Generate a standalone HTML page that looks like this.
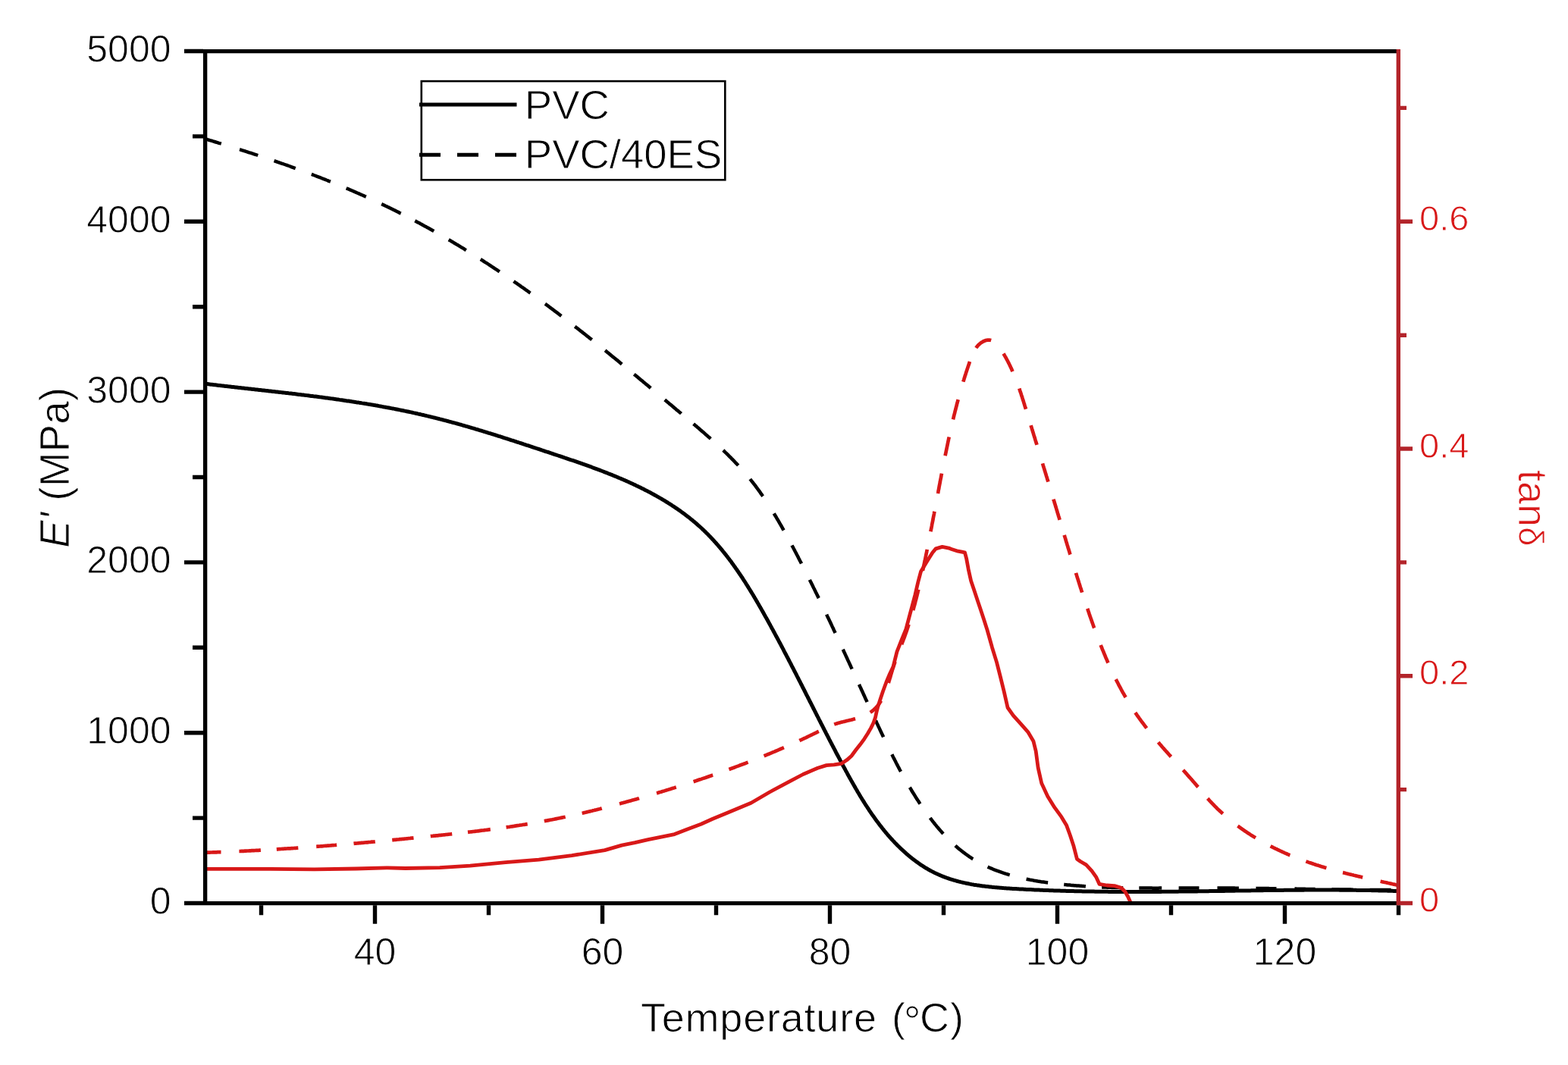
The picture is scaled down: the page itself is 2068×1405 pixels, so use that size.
<!DOCTYPE html><html><head><meta charset="utf-8"><title>DMA plot</title><style>html,body{margin:0;padding:0;background:#fff;overflow:hidden}svg{display:block}text{stroke:#fff;stroke-width:0.9px}</style></head><body><svg width="2068" height="1405" viewBox="0 0 2068 1405">
<rect width="2068" height="1405" fill="#fff"/>
<g fill="none" stroke-linejoin="round">
<path d="M270.7 506.3L272.1 506.5 273.6 506.6 275.1 506.8 276.6 507.0 278.0 507.2 279.5 507.3 281.0 507.5 282.5 507.7 284.0 507.8 285.4 508.0 286.9 508.2 288.4 508.4 289.9 508.5 291.4 508.7 292.8 508.9 294.3 509.0 295.8 509.2 297.3 509.4 298.8 509.5 300.3 509.7 301.7 509.9 303.2 510.0 304.7 510.2 306.2 510.4 307.7 510.5 309.2 510.7 310.7 510.9 312.1 511.0 313.6 511.2 315.1 511.4 316.6 511.5 318.1 511.7 319.6 511.9 321.1 512.0 322.5 512.2 324.0 512.4 325.5 512.5 327.0 512.7 328.5 512.9 330.0 513.0 331.5 513.2 333.0 513.4 334.5 513.5 335.9 513.7 337.4 513.9 338.9 514.0 340.4 514.2 341.9 514.4 343.4 514.5 344.9 514.7 346.4 514.9 347.9 515.0 349.4 515.2 350.8 515.4 352.3 515.5 353.8 515.7 355.3 515.9 356.8 516.0 358.3 516.2 359.8 516.4 361.3 516.5 362.8 516.7 364.3 516.9 365.8 517.0 367.2 517.2 368.7 517.4 370.2 517.6 371.7 517.7 373.2 517.9 374.7 518.1 376.2 518.2 377.7 518.4 379.2 518.6 380.7 518.8 382.2 518.9 383.7 519.1 385.2 519.3 386.6 519.5 388.1 519.6 389.6 519.8 391.1 520.0 392.6 520.2 394.1 520.4 395.6 520.5 397.1 520.7 398.6 520.9 400.1 521.1 401.6 521.3 403.1 521.4 404.5 521.6 406.0 521.8 407.5 522.0 409.0 522.2 410.5 522.4 412.0 522.6 413.5 522.8 415.0 522.9 416.5 523.1 418.0 523.3 419.5 523.5 421.0 523.7 422.4 523.9 423.9 524.1 425.4 524.3 426.9 524.5 428.4 524.7 429.9 524.9 431.4 525.1 432.9 525.3 434.4 525.5 435.9 525.7 437.3 525.9 438.8 526.1 440.3 526.3 441.8 526.5 443.3 526.7 444.8 526.9 446.3 527.1 447.8 527.4 449.2 527.6 450.7 527.8 452.2 528.0 453.7 528.2 455.2 528.4 456.7 528.7 458.2 528.9 459.7 529.1 461.1 529.3 462.6 529.5 464.1 529.8 465.6 530.0 467.1 530.2 468.6 530.4 470.0 530.7 471.5 530.9 473.0 531.1 474.5 531.4 476.0 531.6 477.5 531.9 478.9 532.1 480.4 532.3 481.9 532.6 483.4 532.8 484.9 533.1 486.3 533.3 487.8 533.6 489.3 533.8 490.8 534.1 492.3 534.3 493.7 534.6 495.2 534.8 496.7 535.1 498.2 535.3 499.6 535.6 501.1 535.9 502.6 536.1 504.1 536.4 505.5 536.7 507.0 536.9 508.5 537.2 510.0 537.5 511.4 537.7 512.9 538.0 514.4 538.3 515.9 538.6 517.3 538.9 518.8 539.1 520.3 539.4 521.7 539.7 523.2 540.0 524.7 540.3 526.2 540.6 527.6 540.9 529.1 541.2 530.6 541.5 532.0 541.8 533.5 542.1 534.9 542.4 536.4 542.7 537.9 543.0 539.3 543.3 540.8 543.6 542.3 543.9 543.7 544.2 545.2 544.6 546.7 544.9 548.1 545.2 549.6 545.5 551.0 545.9 552.5 546.2 553.9 546.5 555.4 546.9 556.9 547.2 558.3 547.5 559.8 547.9 561.2 548.2 562.7 548.6 564.1 548.9 565.6 549.3 567.0 549.6 568.5 550.0 569.9 550.3 571.4 550.7 572.8 551.0 574.3 551.4 575.7 551.8 577.2 552.1 578.6 552.5 580.1 552.9 581.5 553.2 583.0 553.6 584.4 554.0 585.9 554.4 587.3 554.7 588.8 555.1 590.2 555.5 591.6 555.9 593.1 556.3 594.5 556.7 596.0 557.1 597.4 557.5 598.8 557.8 600.3 558.2 601.7 558.6 603.2 559.0 604.6 559.4 606.0 559.8 607.5 560.2 608.9 560.7 610.4 561.1 611.8 561.5 613.2 561.9 614.7 562.3 616.1 562.7 617.5 563.1 619.0 563.5 620.4 564.0 621.8 564.4 623.3 564.8 624.7 565.2 626.1 565.6 627.6 566.1 629.0 566.5 630.4 566.9 631.9 567.4 633.3 567.8 634.7 568.2 636.2 568.7 637.6 569.1 639.0 569.5 640.5 570.0 641.9 570.4 643.3 570.8 644.7 571.3 646.2 571.7 647.6 572.2 649.0 572.6 650.5 573.0 651.9 573.5 653.3 573.9 654.7 574.4 656.2 574.8 657.6 575.3 659.0 575.7 660.5 576.2 661.9 576.6 663.3 577.1 664.7 577.6 666.2 578.0 667.6 578.5 669.0 578.9 670.4 579.4 671.9 579.8 673.3 580.3 674.7 580.8 676.2 581.2 677.6 581.7 679.0 582.1 680.4 582.6 681.9 583.1 683.3 583.5 684.7 584.0 686.1 584.5 687.6 584.9 689.0 585.4 690.4 585.9 691.8 586.3 693.3 586.8 694.7 587.3 696.1 587.7 697.5 588.2 699.0 588.7 700.4 589.1 701.8 589.6 703.2 590.1 704.7 590.6 706.1 591.0 707.5 591.5 708.9 592.0 710.4 592.4 711.8 592.9 713.2 593.4 714.7 593.9 716.1 594.3 717.5 594.8 718.9 595.3 720.4 595.8 721.8 596.2 723.2 596.7 724.6 597.2 726.1 597.7 727.5 598.1 728.9 598.6 730.3 599.1 731.8 599.6 733.2 600.0 734.6 600.5 736.1 601.0 737.5 601.5 738.9 601.9 740.3 602.4 741.8 602.9 743.2 603.4 744.6 603.9 746.1 604.3 747.5 604.8 748.9 605.3 750.3 605.8 751.8 606.3 753.2 606.8 754.6 607.2 756.0 607.7 757.5 608.2 758.9 608.7 760.3 609.2 761.7 609.7 763.1 610.2 764.6 610.7 766.0 611.2 767.4 611.7 768.8 612.2 770.2 612.7 771.7 613.2 773.1 613.7 774.5 614.2 775.9 614.7 777.3 615.2 778.7 615.7 780.2 616.2 781.6 616.8 783.0 617.3 784.4 617.8 785.8 618.3 787.2 618.8 788.6 619.4 790.0 619.9 791.4 620.4 792.8 621.0 794.2 621.5 795.6 622.0 797.0 622.6 798.4 623.1 799.8 623.7 801.2 624.2 802.6 624.8 804.0 625.3 805.4 625.9 806.8 626.4 808.2 627.0 809.6 627.6 811.0 628.1 812.4 628.7 813.8 629.3 815.1 629.9 816.5 630.5 817.9 631.0 819.3 631.6 820.7 632.2 822.0 632.8 823.4 633.4 824.8 634.0 826.2 634.6 827.5 635.2 828.9 635.8 830.3 636.5 831.6 637.1 833.0 637.7 834.3 638.3 835.7 639.0 837.1 639.6 838.4 640.2 839.8 640.9 841.1 641.5 842.5 642.2 843.8 642.8 845.2 643.5 846.5 644.2 847.8 644.8 849.2 645.5 850.5 646.2 851.9 646.9 853.2 647.6 854.5 648.2 855.8 648.9 857.2 649.6 858.5 650.3 859.8 651.1 861.1 651.8 862.4 652.5 863.7 653.2 865.0 653.9 866.3 654.7 867.6 655.4 868.9 656.1 870.2 656.9 871.5 657.6 872.8 658.4 874.1 659.2 875.4 659.9 876.7 660.7 877.9 661.5 879.2 662.3 880.5 663.0 881.7 663.8 883.0 664.6 884.2 665.4 885.5 666.2 886.7 667.1 888.0 667.9 889.2 668.7 890.5 669.5 891.7 670.4 892.9 671.2 894.2 672.0 895.4 672.9 896.6 673.7 897.8 674.6 899.0 675.5 900.2 676.3 901.4 677.2 902.6 678.1 903.8 679.0 905.0 679.9 906.1 680.8 907.3 681.7 908.5 682.6 909.7 683.5 910.8 684.5 912.0 685.4 913.1 686.3 914.3 687.3 915.4 688.2 916.5 689.2 917.7 690.1 918.8 691.1 919.9 692.1 921.0 693.1 922.1 694.0 923.2 695.0 924.3 696.0 925.4 697.0 926.5 698.1 927.6 699.1 928.6 700.1 929.7 701.1 930.8 702.2 931.8 703.2 932.9 704.3 933.9 705.3 935.0 706.4 936.0 707.4 937.0 708.5 938.0 709.6 939.1 710.7 940.1 711.8 941.1 712.9 942.1 714.0 943.1 715.1 944.1 716.2 945.1 717.3 946.0 718.4 947.0 719.5 948.0 720.7 949.0 721.8 949.9 722.9 950.9 724.1 951.8 725.2 952.8 726.4 953.7 727.6 954.7 728.7 955.6 729.9 956.6 731.1 957.5 732.2 958.4 733.4 959.3 734.6 960.2 735.8 961.2 737.0 962.1 738.2 963.0 739.4 963.9 740.6 964.8 741.8 965.6 743.0 966.5 744.2 967.4 745.5 968.3 746.7 969.2 747.9 970.0 749.2 970.9 750.4 971.8 751.6 972.6 752.9 973.5 754.1 974.3 755.4 975.2 756.6 976.0 757.9 976.9 759.1 977.7 760.4 978.6 761.6 979.4 762.9 980.2 764.2 981.0 765.5 981.9 766.7 982.7 768.0 983.5 769.3 984.3 770.6 985.1 771.8 985.9 773.1 986.7 774.4 987.5 775.7 988.3 777.0 989.1 778.3 989.9 779.6 990.7 780.9 991.5 782.2 992.3 783.5 993.1 784.8 993.9 786.1 994.6 787.4 995.4 788.7 996.2 790.0 996.9 791.3 997.7 792.6 998.5 793.9 999.2 795.2 1000.0 796.5 1000.8 797.9 1001.5 799.2 1002.3 800.5 1003.0 801.8 1003.8 803.1 1004.5 804.4 1005.3 805.8 1006.0 807.1 1006.8 808.4 1007.5 809.7 1008.2 811.0 1009.0 812.4 1009.7 813.7 1010.5 815.0 1011.2 816.3 1011.9 817.6 1012.7 819.0 1013.4 820.3 1014.1 821.6 1014.8 822.9 1015.6 824.2 1016.3 825.6 1017.0 826.9 1017.7 828.2 1018.4 829.5 1019.2 830.8 1019.9 832.2 1020.6 833.5 1021.3 834.8 1022.0 836.1 1022.7 837.4 1023.4 838.8 1024.1 840.1 1024.9 841.4 1025.6 842.7 1026.3 844.0 1027.0 845.4 1027.7 846.7 1028.4 848.0 1029.1 849.3 1029.8 850.6 1030.5 852.0 1031.2 853.3 1031.9 854.6 1032.6 855.9 1033.3 857.2 1033.9 858.6 1034.6 859.9 1035.3 861.2 1036.0 862.5 1036.7 863.8 1037.4 865.2 1038.1 866.5 1038.8 867.8 1039.5 869.1 1040.1 870.5 1040.8 871.8 1041.5 873.1 1042.2 874.4 1042.9 875.7 1043.6 877.1 1044.2 878.4 1044.9 879.7 1045.6 881.0 1046.3 882.3 1047.0 883.7 1047.6 885.0 1048.3 886.3 1049.0 887.6 1049.7 889.0 1050.4 890.3 1051.0 891.6 1051.7 892.9 1052.4 894.3 1053.1 895.6 1053.7 896.9 1054.4 898.2 1055.1 899.5 1055.8 900.9 1056.4 902.2 1057.1 903.5 1057.8 904.8 1058.4 906.2 1059.1 907.5 1059.8 908.8 1060.5 910.1 1061.1 911.5 1061.8 912.8 1062.5 914.1 1063.1 915.4 1063.8 916.8 1064.5 918.1 1065.2 919.4 1065.8 920.7 1066.5 922.0 1067.2 923.4 1067.8 924.7 1068.5 926.0 1069.2 927.3 1069.9 928.7 1070.5 930.0 1071.2 931.3 1071.9 932.6 1072.5 934.0 1073.2 935.3 1073.9 936.6 1074.6 938.0 1075.2 939.3 1075.9 940.6 1076.6 941.9 1077.2 943.3 1077.9 944.6 1078.6 945.9 1079.3 947.2 1079.9 948.6 1080.6 949.9 1081.3 951.2 1082.0 952.5 1082.6 953.9 1083.3 955.2 1084.0 956.5 1084.7 957.8 1085.4 959.2 1086.0 960.5 1086.7 961.8 1087.4 963.2 1088.1 964.5 1088.8 965.8 1089.4 967.1 1090.1 968.5 1090.8 969.8 1091.5 971.1 1092.2 972.5 1092.9 973.8 1093.5 975.1 1094.2 976.4 1094.9 977.8 1095.6 979.1 1096.3 980.4 1097.0 981.8 1097.7 983.1 1098.4 984.4 1099.1 985.8 1099.8 987.1 1100.5 988.4 1101.2 989.7 1101.9 991.1 1102.5 992.4 1103.2 993.7 1103.9 995.1 1104.7 996.4 1105.4 997.7 1106.1 999.1 1106.8 1000.4 1107.5 1001.7 1108.2 1003.1 1108.9 1004.4 1109.6 1005.7 1110.3 1007.1 1111.0 1008.4 1111.7 1009.7 1112.4 1011.0 1113.2 1012.4 1113.9 1013.7 1114.6 1015.0 1115.3 1016.4 1116.0 1017.7 1116.8 1019.0 1117.5 1020.4 1118.2 1021.7 1118.9 1023.0 1119.7 1024.4 1120.4 1025.7 1121.1 1027.0 1121.9 1028.3 1122.6 1029.7 1123.4 1031.0 1124.1 1032.3 1124.9 1033.6 1125.6 1035.0 1126.4 1036.3 1127.1 1037.6 1127.9 1038.9 1128.6 1040.2 1129.4 1041.5 1130.2 1042.8 1130.9 1044.2 1131.7 1045.5 1132.5 1046.8 1133.3 1048.1 1134.0 1049.4 1134.8 1050.7 1135.6 1052.0 1136.4 1053.3 1137.2 1054.6 1138.0 1055.8 1138.8 1057.1 1139.6 1058.4 1140.4 1059.7 1141.2 1061.0 1142.0 1062.3 1142.9 1063.5 1143.7 1064.8 1144.5 1066.1 1145.4 1067.3 1146.2 1068.6 1147.0 1069.8 1147.9 1071.1 1148.7 1072.3 1149.6 1073.6 1150.4 1074.8 1151.3 1076.1 1152.2 1077.3 1153.1 1078.5 1153.9 1079.8 1154.8 1081.0 1155.7 1082.2 1156.6 1083.4 1157.5 1084.6 1158.4 1085.8 1159.3 1087.0 1160.2 1088.2 1161.1 1089.4 1162.1 1090.6 1163.0 1091.8 1163.9 1093.0 1164.9 1094.2 1165.8 1095.3 1166.8 1096.5 1167.7 1097.6 1168.7 1098.8 1169.7 1100.0 1170.6 1101.1 1171.6 1102.2 1172.6 1103.4 1173.6 1104.5 1174.6 1105.6 1175.6 1106.7 1176.6 1107.8 1177.6 1108.9 1178.7 1110.0 1179.7 1111.1 1180.7 1112.2 1181.8 1113.3 1182.8 1114.4 1183.9 1115.4 1185.0 1116.5 1186.0 1117.5 1187.1 1118.6 1188.2 1119.6 1189.3 1120.7 1190.4 1121.7 1191.5 1122.7 1192.6 1123.7 1193.7 1124.7 1194.8 1125.7 1195.9 1126.7 1197.1 1127.6 1198.2 1128.6 1199.4 1129.6 1200.5 1130.5 1201.7 1131.4 1202.8 1132.4 1204.0 1133.3 1205.2 1134.2 1206.4 1135.1 1207.6 1136.0 1208.8 1136.9 1210.0 1137.7 1211.2 1138.6 1212.4 1139.4 1213.6 1140.3 1214.8 1141.1 1216.0 1141.9 1217.3 1142.7 1218.5 1143.5 1219.8 1144.3 1221.0 1145.0 1222.3 1145.8 1223.6 1146.5 1224.8 1147.3 1226.1 1148.0 1227.4 1148.7 1228.7 1149.4 1230.0 1150.1 1231.3 1150.7 1232.6 1151.4 1233.9 1152.0 1235.2 1152.6 1236.6 1153.2 1237.9 1153.8 1239.2 1154.4 1240.6 1155.0 1241.9 1155.6 1243.3 1156.1 1244.6 1156.6 1246.0 1157.2 1247.3 1157.7 1248.7 1158.2 1250.1 1158.6 1251.5 1159.1 1252.9 1159.6 1254.3 1160.0 1255.7 1160.5 1257.1 1160.9 1258.5 1161.3 1259.9 1161.7 1261.3 1162.1 1262.7 1162.5 1264.1 1162.9 1265.6 1163.2 1267.0 1163.6 1268.4 1163.9 1269.9 1164.3 1271.3 1164.6 1272.7 1164.9 1274.2 1165.2 1275.6 1165.5 1277.1 1165.8 1278.6 1166.1 1280.0 1166.4 1281.5 1166.7 1282.9 1166.9 1284.4 1167.2 1285.9 1167.4 1287.4 1167.6 1288.8 1167.9 1290.3 1168.1 1291.8 1168.3 1293.3 1168.5 1294.8 1168.7 1296.3 1168.9 1297.8 1169.1 1299.3 1169.3 1300.8 1169.5 1302.3 1169.6 1303.8 1169.8 1305.3 1170.0 1306.8 1170.1 1308.3 1170.3 1309.8 1170.4 1311.3 1170.6 1312.8 1170.7 1314.3 1170.8 1315.8 1171.0 1317.3 1171.1 1318.8 1171.2 1320.4 1171.3 1321.9 1171.4 1323.4 1171.6 1324.9 1171.7 1326.4 1171.8 1327.9 1171.9 1329.5 1172.0 1331.0 1172.1 1332.5 1172.2 1334.0 1172.3 1335.5 1172.4 1337.0 1172.4 1338.6 1172.5 1340.1 1172.6 1341.6 1172.7 1343.1 1172.8 1344.6 1172.9 1346.2 1173.0 1347.7 1173.0 1349.2 1173.1 1350.7 1173.2 1352.2 1173.3 1353.7 1173.4 1355.2 1173.4 1356.8 1173.5 1358.3 1173.6 1359.8 1173.6 1361.3 1173.7 1362.8 1173.8 1364.3 1173.9 1365.8 1173.9 1367.4 1174.0 1368.9 1174.1 1370.4 1174.1 1371.9 1174.2 1373.4 1174.2 1374.9 1174.3 1376.4 1174.4 1377.9 1174.4 1379.5 1174.5 1381.0 1174.5 1382.5 1174.6 1384.0 1174.7 1385.5 1174.7 1387.0 1174.8 1388.5 1174.8 1390.0 1174.9 1391.5 1174.9 1393.0 1175.0 1394.6 1175.0 1396.1 1175.1 1397.6 1175.1 1399.1 1175.2 1400.6 1175.2 1402.1 1175.3 1403.6 1175.3 1405.1 1175.3 1406.6 1175.4 1408.1 1175.4 1409.6 1175.5 1411.1 1175.5 1412.6 1175.5 1414.1 1175.6 1415.7 1175.6 1417.2 1175.7 1418.7 1175.7 1420.2 1175.7 1421.7 1175.8 1423.2 1175.8 1424.7 1175.8 1426.2 1175.8 1427.7 1175.9 1429.2 1175.9 1430.7 1175.9 1432.2 1176.0 1433.7 1176.0 1435.2 1176.0 1436.7 1176.0 1438.2 1176.1 1439.7 1176.1 1441.2 1176.1 1442.7 1176.1 1444.2 1176.2 1445.7 1176.2 1447.2 1176.2 1448.7 1176.2 1450.2 1176.2 1451.7 1176.3 1453.2 1176.3 1454.7 1176.3 1456.2 1176.3 1457.7 1176.3 1459.2 1176.3 1460.7 1176.3 1462.2 1176.4 1463.7 1176.4 1465.2 1176.4 1466.7 1176.4 1468.2 1176.4 1469.7 1176.4 1471.2 1176.4 1472.7 1176.4 1474.2 1176.4 1475.7 1176.4 1477.2 1176.5 1478.7 1176.5 1480.2 1176.5 1481.7 1176.5 1483.2 1176.5 1484.7 1176.5 1486.2 1176.5 1487.7 1176.5 1489.2 1176.5 1490.7 1176.5 1492.2 1176.5 1493.7 1176.5 1495.2 1176.5 1496.7 1176.5 1498.2 1176.5 1499.7 1176.5 1501.2 1176.5 1502.7 1176.5 1504.2 1176.5 1505.7 1176.5 1507.2 1176.5 1508.6 1176.5 1510.1 1176.5 1511.6 1176.5 1513.1 1176.5 1514.6 1176.4 1516.1 1176.4 1517.6 1176.4 1519.1 1176.4 1520.6 1176.4 1522.1 1176.4 1523.6 1176.4 1525.1 1176.4 1526.6 1176.4 1528.1 1176.4 1529.6 1176.4 1531.1 1176.4 1532.6 1176.3 1534.1 1176.3 1535.6 1176.3 1537.0 1176.3 1538.5 1176.3 1540.0 1176.3 1541.5 1176.3 1543.0 1176.3 1544.5 1176.2 1546.0 1176.2 1547.5 1176.2 1549.0 1176.2 1550.5 1176.2 1552.0 1176.2 1553.5 1176.2 1555.0 1176.1 1556.5 1176.1 1558.0 1176.1 1559.4 1176.1 1560.9 1176.1 1562.4 1176.1 1563.9 1176.0 1565.4 1176.0 1566.9 1176.0 1568.4 1176.0 1569.9 1176.0 1571.4 1175.9 1572.9 1175.9 1574.4 1175.9 1575.9 1175.9 1577.4 1175.9 1578.8 1175.9 1580.3 1175.8 1581.8 1175.8 1583.3 1175.8 1584.8 1175.8 1586.3 1175.8 1587.8 1175.7 1589.3 1175.7 1590.8 1175.7 1592.3 1175.7 1593.8 1175.7 1595.3 1175.6 1596.8 1175.6 1598.2 1175.6 1599.7 1175.6 1601.2 1175.5 1602.7 1175.5 1604.2 1175.5 1605.7 1175.5 1607.2 1175.5 1608.7 1175.4 1610.2 1175.4 1611.7 1175.4 1613.2 1175.4 1614.7 1175.4 1616.1 1175.3 1617.6 1175.3 1619.1 1175.3 1620.6 1175.3 1622.1 1175.2 1623.6 1175.2 1625.1 1175.2 1626.6 1175.2 1628.1 1175.2 1629.6 1175.1 1631.1 1175.1 1632.6 1175.1 1634.1 1175.1 1635.5 1175.1 1637.0 1175.0 1638.5 1175.0 1640.0 1175.0 1641.5 1175.0 1643.0 1174.9 1644.5 1174.9 1646.0 1174.9 1647.5 1174.9 1649.0 1174.9 1650.5 1174.8 1652.0 1174.8 1653.5 1174.8 1655.0 1174.8 1656.4 1174.8 1657.9 1174.7 1659.4 1174.7 1660.9 1174.7 1662.4 1174.7 1663.9 1174.7 1665.4 1174.7 1666.9 1174.6 1668.4 1174.6 1669.9 1174.6 1671.4 1174.6 1672.9 1174.6 1674.4 1174.5 1675.9 1174.5 1677.4 1174.5 1678.8 1174.5 1680.3 1174.5 1681.8 1174.5 1683.3 1174.4 1684.8 1174.4 1686.3 1174.4 1687.8 1174.4 1689.3 1174.4 1690.8 1174.4 1692.3 1174.4 1693.8 1174.3 1695.3 1174.3 1696.8 1174.3 1698.3 1174.3 1699.8 1174.3 1701.3 1174.3 1702.8 1174.3 1704.3 1174.2 1705.8 1174.2 1707.3 1174.2 1708.8 1174.2 1710.2 1174.2 1711.7 1174.2 1713.2 1174.2 1714.7 1174.2 1716.2 1174.2 1717.7 1174.2 1719.2 1174.2 1720.7 1174.1 1722.2 1174.1 1723.7 1174.1 1725.2 1174.1 1726.7 1174.1 1728.2 1174.1 1729.7 1174.1 1731.2 1174.1 1732.7 1174.1 1734.2 1174.1 1735.7 1174.1 1737.2 1174.1 1738.7 1174.1 1740.2 1174.1 1741.7 1174.1 1743.2 1174.1 1744.7 1174.1 1746.2 1174.1 1747.7 1174.1 1749.2 1174.1 1750.7 1174.1 1752.2 1174.1 1753.7 1174.1 1755.2 1174.1 1756.7 1174.1 1758.2 1174.1 1759.7 1174.1 1761.2 1174.1 1762.7 1174.1 1764.2 1174.1 1765.7 1174.1 1767.2 1174.2 1768.7 1174.2 1770.2 1174.2 1771.7 1174.2 1773.2 1174.2 1774.7 1174.2 1776.2 1174.2 1777.7 1174.2 1779.2 1174.2 1780.7 1174.3 1782.2 1174.3 1783.7 1174.3 1785.2 1174.3 1786.8 1174.3 1788.3 1174.3 1789.8 1174.4 1791.3 1174.4 1792.8 1174.4 1794.3 1174.4 1795.8 1174.4 1797.3 1174.5 1798.8 1174.5 1800.3 1174.5 1801.8 1174.5 1803.3 1174.6 1804.8 1174.6 1806.3 1174.6 1807.8 1174.6 1809.3 1174.7 1810.9 1174.7 1812.4 1174.7 1813.9 1174.8 1815.4 1174.8 1816.9 1174.8 1818.4 1174.9 1819.9 1174.9 1821.4 1174.9 1822.9 1175.0 1824.4 1175.0 1825.9 1175.0 1827.5 1175.1 1829.0 1175.1 1830.5 1175.2 1832.0 1175.2 1833.5 1175.2 1835.0 1175.3 1836.5 1175.3 1838.0 1175.4 1839.6 1175.4 1841.1 1175.5 1842.6 1175.5 1844.1 1175.6" stroke="#000" stroke-width="5"/>
<path d="M270.4 183.2L270.4 183.2 271.8 183.6 273.3 184.0 274.7 184.5 276.1 184.9 277.5 185.3 279.0 185.7 280.4 186.2 281.8 186.6 283.2 187.0 284.7 187.5 286.1 187.9 287.5 188.3 288.9 188.8 290.4 189.2 291.8 189.6M316.0 197.2L316.0 197.2 317.4 197.6 318.9 198.1 320.3 198.5 321.7 199.0 323.1 199.4 324.6 199.9 326.0 200.3 327.4 200.8 328.8 201.3 330.3 201.7 331.7 202.2 333.1 202.6 334.5 203.1 335.9 203.6 337.4 204.0 338.8 204.5 340.2 205.0M361.5 212.1L361.5 212.1 362.9 212.6 364.3 213.1 365.7 213.6 367.1 214.1 368.6 214.6 370.0 215.1 371.4 215.6 372.8 216.0 374.2 216.5 375.6 217.0 377.0 217.5 378.5 218.0 379.9 218.5 381.3 219.0 382.7 219.5 384.1 220.1 385.5 220.6 386.9 221.1 388.3 221.6 389.7 222.1M410.8 229.9L410.8 229.9 412.2 230.4 413.6 231.0 415.0 231.5 416.4 232.0 417.8 232.6 419.2 233.1 420.6 233.7 422.0 234.2 423.4 234.7 424.8 235.3 426.2 235.8 427.6 236.4 429.0 236.9 430.4 237.5 431.8 238.0 433.1 238.6 434.5 239.2 435.9 239.7M456.7 248.3L456.7 248.3 458.1 248.9 459.5 249.4 460.8 250.0 462.2 250.6 463.6 251.2 465.0 251.8 466.3 252.4 467.7 253.0 469.1 253.6 470.5 254.2 471.8 254.8 473.2 255.4 474.6 256.0 475.9 256.6 477.3 257.2 478.7 257.8 480.0 258.4 481.4 259.0 482.8 259.6M503.2 269.1L503.2 269.1 504.5 269.7 505.9 270.4 507.2 271.0 508.6 271.7 509.9 272.3 511.3 273.0 512.6 273.6 513.9 274.3 515.3 274.9 516.6 275.6 518.0 276.3 519.3 276.9 520.7 277.6 522.0 278.3 523.3 278.9 524.7 279.6 526.0 280.3 527.3 281.0 528.7 281.6M547.3 291.3L547.3 291.3 548.6 292.0 549.9 292.7 551.2 293.4 552.6 294.1 553.9 294.8 555.2 295.6 556.5 296.3 557.8 297.0 559.1 297.7 560.4 298.4 561.8 299.1 563.1 299.9 564.4 300.6 565.7 301.3 567.0 302.0 568.3 302.8 569.6 303.5 570.9 304.2 572.2 305.0M591.7 316.2L591.7 316.2 593.0 316.9 594.3 317.7 595.6 318.5 596.9 319.2 598.1 320.0 599.4 320.8 600.7 321.5 602.0 322.3 603.3 323.1 604.6 323.8 605.9 324.6 607.1 325.4 608.4 326.2 609.7 326.9 611.0 327.7 612.3 328.5 613.5 329.3 614.8 330.1M633.8 342.0L633.8 342.0 635.1 342.8 636.4 343.6 637.6 344.5 638.9 345.3 640.1 346.1 641.4 346.9 642.7 347.7 643.9 348.5 645.2 349.4 646.4 350.2 647.7 351.0 648.9 351.8 650.2 352.6 651.4 353.5 652.7 354.3 653.9 355.1 655.2 355.9 656.4 356.8 657.7 357.6 658.9 358.4M677.5 371.1L677.5 371.1 678.7 372.0 679.9 372.8 681.2 373.7 682.4 374.5 683.6 375.4 684.9 376.2 686.1 377.1 687.3 378.0 688.5 378.8 689.8 379.7 691.0 380.5 692.2 381.4 693.4 382.3 694.7 383.2 695.9 384.0 697.1 384.9 698.3 385.8 699.5 386.6M718.9 400.8L718.9 400.8 720.1 401.6 721.3 402.5 722.5 403.4 723.7 404.3 724.9 405.2 726.1 406.1 727.3 407.0 728.5 407.9 729.7 408.8 730.9 409.7 732.1 410.6 733.3 411.5 734.5 412.4 735.7 413.3 736.9 414.2 738.0 415.1 739.2 416.0 740.4 416.9M758.2 430.7L758.2 430.7 759.4 431.6 760.6 432.5 761.8 433.4 762.9 434.3 764.1 435.3 765.3 436.2 766.5 437.1 767.7 438.0 768.8 439.0 770.0 439.9 771.2 440.8 772.4 441.7 773.5 442.7 774.7 443.6 775.9 444.5 777.1 445.5 778.2 446.4 779.4 447.3 780.6 448.3M798.1 462.3L798.1 462.3 799.3 463.3 800.4 464.2 801.6 465.2 802.7 466.1 803.9 467.1 805.1 468.0 806.2 469.0 807.4 469.9 808.6 470.9 809.7 471.8 810.9 472.7 812.0 473.7 813.2 474.6 814.4 475.6 815.5 476.5 816.7 477.5 817.8 478.4 819.0 479.4 820.2 480.4M836.3 493.7L836.3 493.7 837.5 494.7 838.7 495.6 839.8 496.6 841.0 497.5 842.1 498.5 843.3 499.5 844.4 500.4 845.6 501.4 846.7 502.3 847.9 503.3 849.0 504.3 850.2 505.2 851.3 506.2 852.5 507.1 853.6 508.1 854.8 509.1 855.9 510.0 857.1 511.0 858.2 512.0M876.7 527.4L876.7 527.4 877.8 528.3 879.0 529.3 880.1 530.3 881.3 531.2 882.4 532.2 883.6 533.2 884.7 534.1 885.9 535.1 887.0 536.0 888.2 537.0 889.3 538.0 890.5 538.9 891.6 539.9 892.8 540.9 893.9 541.8 895.1 542.8 896.2 543.8 897.4 544.7 898.5 545.7M914.6 559.2L914.6 559.2 915.8 560.2 916.9 561.2 918.0 562.1 919.2 563.1 920.3 564.1 921.5 565.1 922.6 566.0 923.7 567.0 924.9 568.0 926.0 569.0 927.2 569.9 928.3 570.9 929.4 571.9 930.5 572.9 931.7 573.9 932.8 574.9 933.9 575.9 935.0 576.8 936.2 577.8 937.3 578.8M953.8 594.0L953.8 594.0 954.9 595.0 955.9 596.1 957.0 597.1 958.1 598.1 959.1 599.2 960.2 600.2 961.3 601.3 962.3 602.3 963.4 603.4 964.4 604.4 965.4 605.5 966.5 606.5 967.5 607.6 968.6 608.7 969.6 609.8 970.6 610.8 971.6 611.9 972.7 613.0 973.7 614.1M989.3 632.0L989.3 632.0 990.2 633.2 991.1 634.3 992.0 635.5 993.0 636.7 993.9 637.9 994.8 639.0 995.7 640.2 996.6 641.4 997.5 642.6 998.4 643.8 999.2 645.0 1000.1 646.2 1001.0 647.4 1001.9 648.6 1002.7 649.8 1003.6 651.1 1004.5 652.3 1005.3 653.5 1006.2 654.7M1020.8 677.4L1020.8 677.4 1021.5 678.7 1022.3 680.0 1023.1 681.3 1023.9 682.6 1024.6 683.9 1025.4 685.2 1026.2 686.5 1026.9 687.8 1027.7 689.1 1028.4 690.4 1029.2 691.7 1029.9 693.0 1030.7 694.3 1031.4 695.6 1032.1 697.0 1032.9 698.3 1033.6 699.6M1044.4 719.5L1044.4 719.5 1045.1 720.8 1045.9 722.1 1046.6 723.5 1047.3 724.8 1048.0 726.1 1048.7 727.5 1049.4 728.8 1050.1 730.1 1050.8 731.5 1051.5 732.8 1052.2 734.1 1052.9 735.5 1053.5 736.8 1054.2 738.1 1054.9 739.5 1055.6 740.8 1056.3 742.1 1057.0 743.5M1067.9 764.9L1067.9 764.9 1068.5 766.2 1069.2 767.6 1069.9 768.9 1070.5 770.3 1071.2 771.6 1071.9 773.0 1072.5 774.3 1073.2 775.7 1073.9 777.0 1074.5 778.3 1075.2 779.7 1075.8 781.0 1076.5 782.4 1077.2 783.7 1077.8 785.1 1078.5 786.4 1079.1 787.8 1079.8 789.1M1090.2 810.7L1090.2 810.7 1090.8 812.1 1091.4 813.4 1092.1 814.8 1092.7 816.1 1093.4 817.5 1094.0 818.8 1094.7 820.2 1095.3 821.5 1095.9 822.9 1096.6 824.2 1097.2 825.6 1097.8 826.9 1098.5 828.3 1099.1 829.6 1099.7 831.0 1100.4 832.4 1101.0 833.7 1101.7 835.1M1111.7 856.8L1111.7 856.8 1112.4 858.1 1113.0 859.5 1113.6 860.8 1114.3 862.2 1114.9 863.6 1115.5 864.9 1116.1 866.3 1116.8 867.6 1117.4 869.0 1118.0 870.3 1118.6 871.7 1119.3 873.1 1119.9 874.4 1120.5 875.8 1121.1 877.1 1121.8 878.5 1122.4 879.9 1123.0 881.2 1123.6 882.6M1133.0 903.0L1133.0 903.0 1133.6 904.3 1134.2 905.7 1134.9 907.0 1135.5 908.4 1136.1 909.8 1136.7 911.1 1137.4 912.5 1138.0 913.8 1138.6 915.2 1139.2 916.6 1139.9 917.9 1140.5 919.3 1141.1 920.7 1141.7 922.0 1142.4 923.4 1143.0 924.7 1143.6 926.1M1154.9 950.6L1154.9 950.6 1155.6 951.9 1156.2 953.3 1156.8 954.7 1157.5 956.0 1158.1 957.4 1158.7 958.7 1159.4 960.1 1160.0 961.4 1160.6 962.8 1161.3 964.2 1161.9 965.5 1162.5 966.9 1163.2 968.2 1163.8 969.6 1164.5 970.9 1165.1 972.3M1176.3 995.2L1176.3 995.2 1177.0 996.6 1177.6 997.9 1178.3 999.3 1179.0 1000.6 1179.7 1001.9 1180.4 1003.3 1181.1 1004.6 1181.7 1005.9 1182.4 1007.3 1183.1 1008.6 1183.8 1009.9 1184.5 1011.3 1185.2 1012.6 1185.9 1013.9 1186.6 1015.3 1187.3 1016.6 1188.1 1017.9M1199.9 1038.8L1199.9 1038.8 1200.7 1040.1 1201.5 1041.4 1202.2 1042.7 1203.0 1044.0 1203.8 1045.3 1204.6 1046.6 1205.4 1047.8 1206.2 1049.1 1207.0 1050.4 1207.8 1051.7 1208.6 1052.9 1209.4 1054.2 1210.2 1055.5 1211.1 1056.7 1211.9 1058.0 1212.7 1059.3 1213.6 1060.5M1226.7 1079.0L1226.7 1079.0 1227.6 1080.2 1228.5 1081.4 1229.5 1082.6 1230.4 1083.8 1231.3 1085.0 1232.3 1086.2 1233.2 1087.4 1234.2 1088.5 1235.1 1089.7 1236.1 1090.9 1237.1 1092.0 1238.1 1093.2 1239.0 1094.3 1240.0 1095.4 1241.0 1096.6 1242.0 1097.7 1243.0 1098.8 1244.0 1099.9M1259.9 1115.6L1259.9 1115.6 1261.0 1116.6 1262.1 1117.5 1263.2 1118.5 1264.3 1119.4 1265.5 1120.4 1266.6 1121.3 1267.8 1122.2 1268.9 1123.1 1270.1 1124.0 1271.2 1124.9 1272.4 1125.8 1273.6 1126.7 1274.8 1127.5 1276.0 1128.4 1277.2 1129.2 1278.4 1130.1 1279.6 1130.9 1280.8 1131.7 1282.0 1132.5 1283.3 1133.2M1302.6 1143.6L1302.6 1143.6 1303.9 1144.2 1305.3 1144.8 1306.6 1145.4 1308.0 1145.9 1309.3 1146.5 1310.7 1147.1 1312.0 1147.6 1313.4 1148.1 1314.8 1148.7 1316.2 1149.2 1317.6 1149.7 1319.0 1150.2 1320.4 1150.7 1321.8 1151.2 1323.2 1151.6 1324.6 1152.1 1326.0 1152.5 1327.4 1153.0 1328.8 1153.4 1330.3 1153.9 1331.7 1154.3M1353.6 1159.7L1353.6 1159.7 1355.1 1160.0 1356.5 1160.3 1358.0 1160.6 1359.5 1160.9 1361.0 1161.1 1362.5 1161.4 1364.0 1161.7 1365.5 1161.9 1367.0 1162.2 1368.5 1162.5 1370.0 1162.7 1371.5 1162.9 1373.0 1163.2 1374.5 1163.4 1376.0 1163.6 1377.5 1163.8 1379.0 1164.1 1380.5 1164.3 1382.1 1164.5M1403.2 1166.9L1403.2 1166.9 1404.8 1167.1 1406.3 1167.2 1407.8 1167.4 1409.3 1167.5 1410.8 1167.6 1412.3 1167.8 1413.8 1167.9 1415.3 1168.0 1416.8 1168.2 1418.4 1168.3 1419.9 1168.4 1421.4 1168.5 1422.9 1168.6 1424.4 1168.7 1425.9 1168.8 1427.4 1169.0 1428.9 1169.1 1430.4 1169.2 1431.9 1169.3M1453.1 1170.4L1454.5 1170.4 1456.0 1170.5 1457.5 1170.6 1459.0 1170.6 1460.5 1170.7 1462.0 1170.7 1463.4 1170.8 1464.9 1170.8 1466.4 1170.9 1467.9 1170.9 1469.4 1171.0 1470.9 1171.0 1472.4 1171.1 1473.9 1171.1 1475.4 1171.1 1476.9 1171.2 1478.4 1171.2 1479.9 1171.2 1481.1 1171.3M1502.3 1171.6L1502.3 1171.6 1503.8 1171.6 1505.3 1171.6 1506.8 1171.6 1508.3 1171.6 1509.8 1171.6 1511.3 1171.6 1512.8 1171.6 1514.3 1171.6 1515.8 1171.6 1517.3 1171.6 1518.8 1171.6 1520.3 1171.7 1521.8 1171.7 1523.3 1171.7 1524.7 1171.7 1526.2 1171.7 1527.7 1171.7 1529.2 1171.6 1530.7 1171.6 1532.2 1171.6M1554.6 1171.6L1554.6 1171.6 1556.1 1171.6 1557.6 1171.6 1559.1 1171.5 1560.6 1171.5 1562.1 1171.5 1563.6 1171.5 1565.1 1171.5 1566.6 1171.5 1568.0 1171.5 1569.5 1171.5 1571.0 1171.5 1572.5 1171.5 1574.0 1171.5 1575.5 1171.5 1577.0 1171.5 1578.5 1171.5 1580.0 1171.5 1581.5 1171.5M1605.5 1171.5L1605.5 1171.5 1607.0 1171.5 1608.4 1171.5 1609.9 1171.5 1611.4 1171.5 1612.9 1171.5 1614.4 1171.6 1615.9 1171.6 1617.4 1171.6 1618.9 1171.6 1620.4 1171.6 1621.9 1171.6 1623.4 1171.6 1624.9 1171.6 1626.4 1171.6 1627.9 1171.6 1629.4 1171.7 1630.9 1171.7 1632.4 1171.7 1633.9 1171.7M1656.4 1171.9L1656.4 1171.9 1658.0 1171.9 1659.5 1172.0 1661.0 1172.0 1662.5 1172.0 1664.0 1172.0 1665.5 1172.0 1667.0 1172.1 1668.5 1172.1 1670.0 1172.1 1671.5 1172.1 1673.0 1172.1 1674.5 1172.2 1676.0 1172.2 1677.5 1172.2 1679.0 1172.2 1680.5 1172.2 1682.0 1172.3 1683.5 1172.3M1707.5 1172.6L1707.5 1172.6 1709.0 1172.6 1710.5 1172.7 1712.0 1172.7 1713.5 1172.7 1715.0 1172.7 1716.5 1172.8 1718.0 1172.8 1719.5 1172.8 1721.0 1172.8 1722.5 1172.9 1724.0 1172.9 1725.6 1172.9 1727.1 1172.9 1728.6 1172.9 1730.1 1173.0 1731.6 1173.0 1733.1 1173.0 1734.6 1173.0M1756.6 1173.3L1757.1 1173.3 1758.6 1173.4 1760.1 1173.4 1761.6 1173.4 1763.1 1173.4 1764.6 1173.4 1766.1 1173.5 1767.6 1173.5 1769.1 1173.5 1770.6 1173.5 1772.1 1173.5 1773.6 1173.6 1775.1 1173.6 1776.6 1173.6 1778.1 1173.6 1779.6 1173.6 1781.1 1173.6 1782.6 1173.7 1784.1 1173.7 1784.6 1173.7M1806.6 1173.9L1806.6 1173.9 1808.1 1173.9 1809.6 1173.9 1811.1 1173.9 1812.5 1173.9 1814.0 1173.9 1815.5 1174.0 1817.0 1174.0 1818.5 1174.0 1820.0 1174.0 1821.5 1174.0 1823.0 1174.0 1824.5 1174.0 1826.0 1174.0 1827.5 1174.0 1829.0 1174.0 1830.5 1174.0 1832.0 1174.0 1833.5 1174.0 1834.6 1174.0" stroke="#000" stroke-width="4.5"/>
<path d="M270.5 1124.8L270.5 1124.8 272.0 1124.7 273.5 1124.7 275.0 1124.6 276.5 1124.6 278.0 1124.5 279.5 1124.5 281.0 1124.4 282.5 1124.4 284.0 1124.3 285.5 1124.3 287.0 1124.2 288.5 1124.2 290.0 1124.1 291.5 1124.1M315.4 1123.0L315.4 1123.0 316.9 1123.0 318.4 1122.9 319.9 1122.8 321.4 1122.8 322.9 1122.7 324.4 1122.6 325.9 1122.5 327.4 1122.5 328.9 1122.4 330.4 1122.3 331.9 1122.2 333.4 1122.2 334.9 1122.1 336.4 1122.0 337.9 1121.9 339.4 1121.8 340.9 1121.8 342.4 1121.7 343.9 1121.6M364.8 1120.4L364.8 1120.4 366.3 1120.3 367.8 1120.2 369.3 1120.1 370.8 1120.0 372.3 1119.9 373.8 1119.8 375.3 1119.7 376.8 1119.6 378.3 1119.5 379.8 1119.4 381.3 1119.4 382.8 1119.3 384.3 1119.2 385.8 1119.1 387.3 1119.0 388.8 1118.9 390.3 1118.8 391.8 1118.7 393.3 1118.6M417.2 1116.8L417.2 1116.8 418.7 1116.7 420.2 1116.6 421.7 1116.5 423.2 1116.4 424.7 1116.3 426.1 1116.2 427.6 1116.0 429.1 1115.9 430.6 1115.8 432.1 1115.7 433.6 1115.6 435.1 1115.5 436.6 1115.3 438.1 1115.2 439.6 1115.1 441.1 1115.0 442.6 1114.9 444.1 1114.7M466.5 1112.9L466.5 1112.9 467.9 1112.7 469.4 1112.6 470.9 1112.5 472.4 1112.3 473.9 1112.2 475.4 1112.1 476.9 1111.9 478.4 1111.8 479.9 1111.7 481.4 1111.5 482.9 1111.4 484.4 1111.3 485.8 1111.1 487.3 1111.0 488.8 1110.9 490.3 1110.7 491.8 1110.6 493.3 1110.5 494.8 1110.3M517.2 1108.2L517.2 1108.2 518.6 1108.1 520.1 1107.9 521.6 1107.8 523.1 1107.6 524.6 1107.5 526.1 1107.4 527.6 1107.2 529.1 1107.1 530.6 1106.9 532.1 1106.8 533.6 1106.6 535.0 1106.5 536.5 1106.3 538.0 1106.2 539.5 1106.0 541.0 1105.9 542.5 1105.7 544.0 1105.6 545.5 1105.4M567.8 1103.2L567.8 1103.2 569.3 1103.0 570.8 1102.9 572.3 1102.7 573.8 1102.6 575.3 1102.4 576.8 1102.3 578.3 1102.1 579.8 1101.9 581.3 1101.8 582.8 1101.6 584.2 1101.5 585.7 1101.3 587.2 1101.2 588.7 1101.0 590.2 1100.8 591.7 1100.7 593.2 1100.5 594.7 1100.4 596.2 1100.2M617.0 1097.9L617.0 1097.9 618.5 1097.7 620.0 1097.5 621.5 1097.3 623.0 1097.2 624.5 1097.0 626.0 1096.8 627.5 1096.6 628.9 1096.5 630.4 1096.3 631.9 1096.1 633.4 1095.9 634.9 1095.7 636.4 1095.5 637.9 1095.4 639.4 1095.2 640.8 1095.0 642.3 1094.8 643.8 1094.6 645.3 1094.4 646.8 1094.2M667.6 1091.4L667.6 1091.4 669.1 1091.2 670.5 1091.0 672.0 1090.8 673.5 1090.5 675.0 1090.3 676.5 1090.1 678.0 1089.9 679.4 1089.6 680.9 1089.4 682.4 1089.2 683.9 1089.0 685.4 1088.7 686.8 1088.5 688.3 1088.3 689.8 1088.0 691.3 1087.8 692.8 1087.6 694.2 1087.3 695.7 1087.1M717.8 1083.2L717.8 1083.2 719.3 1082.9 720.8 1082.7 722.2 1082.4 723.7 1082.1 725.2 1081.8 726.7 1081.5 728.1 1081.3 729.6 1081.0 731.1 1080.7 732.5 1080.4 734.0 1080.1 735.5 1079.8 736.9 1079.5 738.4 1079.2 739.9 1078.9 741.3 1078.6 742.8 1078.3 744.3 1078.0 745.7 1077.7M767.6 1072.8L767.6 1072.8 769.1 1072.5 770.6 1072.1 772.0 1071.8 773.5 1071.4 774.9 1071.1 776.4 1070.7 777.9 1070.4 779.3 1070.0 780.8 1069.7 782.2 1069.3 783.7 1069.0 785.1 1068.6 786.6 1068.3 788.0 1067.9 789.5 1067.5 790.9 1067.2 792.4 1066.8 793.8 1066.4M817.0 1060.4L817.0 1060.4 818.5 1060.0 819.9 1059.6 821.4 1059.2 822.8 1058.8 824.3 1058.4 825.7 1058.0 827.2 1057.6 828.6 1057.2 830.0 1056.8 831.5 1056.4 832.9 1056.0 834.4 1055.6 835.8 1055.2 837.3 1054.8 838.7 1054.4 840.1 1054.0 841.6 1053.6 843.0 1053.1M866.0 1046.4L866.0 1046.4 867.5 1046.0 868.9 1045.5 870.3 1045.1 871.8 1044.7 873.2 1044.2 874.6 1043.8 876.1 1043.4 877.5 1042.9 878.9 1042.5 880.4 1042.1 881.8 1041.6 883.2 1041.2 884.7 1040.7 886.1 1040.3 887.5 1039.8 889.0 1039.4 890.4 1038.9 891.8 1038.5M914.6 1031.2L914.6 1031.2 916.1 1030.7 917.5 1030.2 918.9 1029.8 920.3 1029.3 921.7 1028.8 923.2 1028.3 924.6 1027.9 926.0 1027.4 927.4 1026.9 928.9 1026.4 930.3 1026.0 931.7 1025.5 933.1 1025.0 934.5 1024.5 935.9 1024.0 937.4 1023.5 938.8 1023.0 940.2 1022.6M961.4 1015.0L961.4 1015.0 962.8 1014.5 964.2 1014.0 965.6 1013.5 967.0 1013.0 968.4 1012.5 969.8 1011.9 971.2 1011.4 972.6 1010.9 974.0 1010.4 975.4 1009.8 976.8 1009.3 978.2 1008.8 979.6 1008.3 981.0 1007.7 982.4 1007.2 983.8 1006.7 985.2 1006.1 986.6 1005.6M1007.6 997.3L1007.6 997.3 1009.0 996.7 1010.3 996.2 1011.7 995.6 1013.1 995.0 1014.5 994.5 1015.9 993.9 1017.3 993.3 1018.7 992.7 1020.1 992.1 1021.4 991.6 1022.8 991.0 1024.2 990.4 1025.6 989.8 1027.0 989.2 1028.3 988.6 1029.7 988.0 1031.1 987.4 1032.5 986.8 1033.9 986.2M1054.4 977.1L1054.4 977.1 1055.7 976.4 1057.1 975.8 1058.4 975.2 1059.8 974.5 1061.1 973.9 1062.5 973.3 1063.9 972.6 1065.2 972.0 1066.5 971.3 1067.9 970.7 1069.2 970.0 1070.6 969.4 1071.9 968.7 1073.3 968.1 1074.6 967.4 1075.9 966.8 1077.3 966.1 1078.6 965.4 1079.9 964.8M1100.2 955.6L1100.2 955.6 1101.6 955.1 1103.0 954.7 1104.4 954.2 1105.9 953.8 1107.3 953.4 1108.8 953.0 1110.2 952.6 1111.7 952.3 1113.2 951.9 1114.7 951.6 1116.1 951.2 1117.6 950.8 1119.1 950.5 1120.6 950.1 1122.1 949.8 1123.6 949.4 1125.1 949.0 1126.6 948.6 1128.1 948.2M1147.7 939.9L1147.7 939.9 1148.9 939.1 1150.1 938.3 1151.2 937.4 1152.3 936.5 1153.3 935.5 1154.4 934.5 1155.3 933.5 1156.3 932.5 1157.2 931.4 1158.1 930.3 1158.9 929.2 1159.8 928.0 1160.6 926.8 1161.3 925.6 1162.1 924.4M1171.8 901.0L1171.8 901.0 1172.3 899.5 1172.7 898.0 1173.2 896.5 1173.6 895.0 1174.1 893.6 1174.5 892.1 1174.9 890.6 1175.4 889.1 1175.8 887.6 1176.3 886.1 1176.7 884.6 1177.2 883.1 1177.7 881.6 1178.1 880.2 1178.6 878.7 1179.1 877.2 1179.6 875.8 1180.1 874.3 1180.6 872.9M1189.1 850.3L1189.1 850.3 1189.6 848.9 1190.1 847.5 1190.7 846.1 1191.2 844.8 1191.7 843.4 1192.3 842.0 1192.8 840.6 1193.3 839.2 1193.8 837.8 1194.3 836.4 1194.8 835.0 1195.3 833.6 1195.8 832.2 1196.3 830.8 1196.7 829.4 1197.2 827.9 1197.7 826.5 1198.1 825.1 1198.6 823.7M1204.2 805.2L1204.2 805.2 1204.6 803.8 1205.0 802.3 1205.4 800.9 1205.8 799.4 1206.2 798.0 1206.6 796.6 1207.0 795.1 1207.3 793.7 1207.7 792.2 1208.1 790.8 1208.5 789.3 1208.8 787.9 1209.2 786.5 1209.6 785.0 1209.9 783.6 1210.3 782.1 1210.6 780.7 1211.0 779.2 1211.3 777.7M1217.0 752.9L1217.0 752.9 1217.3 751.4 1217.6 750.0 1217.9 748.5 1218.2 747.0 1218.5 745.6 1218.8 744.1 1219.1 742.6 1219.4 741.2 1219.8 739.7 1220.1 738.2 1220.4 736.7 1220.7 735.3 1221.0 733.8 1221.3 732.3 1221.6 730.8 1221.9 729.4 1222.2 727.9 1222.5 726.4 1222.8 724.9M1227.4 701.3L1227.4 701.3 1227.7 699.8 1228.0 698.3 1228.3 696.9 1228.6 695.4 1228.9 693.9 1229.1 692.4 1229.4 690.9 1229.7 689.5 1230.0 688.0 1230.3 686.5 1230.6 685.0 1230.8 683.5 1231.1 682.1 1231.4 680.6 1231.7 679.1 1232.0 677.6 1232.2 676.2 1232.5 674.7M1237.0 651.1L1237.0 651.1 1237.3 649.6 1237.5 648.1 1237.8 646.6 1238.1 645.2 1238.4 643.7 1238.6 642.2 1238.9 640.7 1239.2 639.3 1239.5 637.8 1239.8 636.3 1240.0 634.9 1240.3 633.4 1240.6 631.9 1240.9 630.5 1241.2 629.0 1241.4 627.5 1241.7 626.1 1242.0 624.6M1246.6 601.2L1246.6 601.2 1246.9 599.8 1247.2 598.3 1247.5 596.9 1247.8 595.4 1248.1 594.0 1248.4 592.5 1248.7 591.1 1249.0 589.6 1249.3 588.2 1249.6 586.7 1249.9 585.2 1250.2 583.8 1250.5 582.3 1250.8 580.9 1251.1 579.4 1251.4 578.0 1251.8 576.5M1257.0 553.3L1257.0 553.3 1257.4 551.9 1257.7 550.4 1258.1 548.9 1258.4 547.5 1258.8 546.0 1259.2 544.6 1259.5 543.1 1259.9 541.7 1260.3 540.2 1260.6 538.8 1261.0 537.3 1261.4 535.9 1261.8 534.4 1262.1 532.9 1262.5 531.5 1262.9 530.0 1263.3 528.6 1263.7 527.1M1270.4 503.7L1270.4 503.7 1270.8 502.2 1271.3 500.7 1271.7 499.3 1272.2 497.8 1272.6 496.3 1273.1 494.9 1273.6 493.4 1274.0 491.9 1274.5 490.4 1275.0 489.0 1275.5 487.5 1276.0 486.0 1276.5 484.5 1277.0 483.0 1277.5 481.5 1278.0 480.1 1278.5 478.6 1279.0 477.1M1287.3 459.0L1287.3 459.0 1288.1 457.8 1289.1 456.7 1290.0 455.6 1291.1 454.6 1292.1 453.6 1293.2 452.7 1294.3 451.9 1295.5 451.2 1296.6 450.5 1297.8 450.0 1299.0 449.5 1300.2 449.1 1301.3 448.8 1302.5 448.7 1303.7 448.6 1304.9 448.6 1306.1 448.8 1307.2 449.1M1323.5 466.5L1323.5 466.5 1324.3 467.9 1325.1 469.3 1325.9 470.7 1326.7 472.0 1327.4 473.4 1328.2 474.8 1328.9 476.2 1329.6 477.5 1330.3 478.9 1331.0 480.3 1331.7 481.7 1332.4 483.1 1333.0 484.5 1333.7 485.9 1334.3 487.3 1334.9 488.7 1335.5 490.1M1344.3 512.6L1344.3 512.6 1344.8 514.1 1345.2 515.5 1345.7 516.9 1346.2 518.3 1346.7 519.7 1347.1 521.2 1347.6 522.6 1348.1 524.0 1348.5 525.4 1349.0 526.9 1349.4 528.3 1349.9 529.7 1350.3 531.2 1350.8 532.6 1351.2 534.0 1351.6 535.4 1352.1 536.9 1352.5 538.3 1353.0 539.7M1359.6 561.2L1359.6 561.2 1360.0 562.6 1360.5 564.0 1360.9 565.5 1361.3 566.9 1361.8 568.3 1362.2 569.8 1362.7 571.2 1363.1 572.6 1363.5 574.0 1364.0 575.5 1364.4 576.9 1364.9 578.3 1365.3 579.8 1365.7 581.2 1366.2 582.6 1366.6 584.1 1367.1 585.5 1367.5 586.9M1375.0 611.3L1375.0 611.3 1375.4 612.7 1375.8 614.2 1376.3 615.6 1376.7 617.0 1377.2 618.5 1377.6 619.9 1378.0 621.3 1378.5 622.8 1378.9 624.2 1379.3 625.6 1379.8 627.1 1380.2 628.5 1380.7 629.9 1381.1 631.4 1381.5 632.8 1382.0 634.2 1382.4 635.6M1389.4 658.6L1389.4 658.6 1389.8 660.0 1390.3 661.4 1390.7 662.9 1391.1 664.3 1391.6 665.7 1392.0 667.2 1392.4 668.6 1392.9 670.0 1393.3 671.5 1393.7 672.9 1394.2 674.3 1394.6 675.8 1395.0 677.2 1395.5 678.6 1395.9 680.1 1396.3 681.5 1396.8 682.9 1397.2 684.4 1397.6 685.8M1403.7 705.8L1403.7 705.8 1404.1 707.3 1404.5 708.7 1405.0 710.1 1405.4 711.6 1405.8 713.0 1406.2 714.4 1406.7 715.9 1407.1 717.3 1407.5 718.7 1408.0 720.2 1408.4 721.6 1408.8 723.0 1409.3 724.4 1409.7 725.9 1410.2 727.3 1410.6 728.7 1411.0 730.2 1411.5 731.6M1419.0 755.9L1419.0 755.9 1419.4 757.3 1419.9 758.7 1420.3 760.2 1420.8 761.6 1421.2 763.0 1421.7 764.4 1422.1 765.9 1422.6 767.3 1423.0 768.7 1423.5 770.2 1423.9 771.6 1424.4 773.0 1424.8 774.4 1425.3 775.9 1425.8 777.3 1426.2 778.7 1426.7 780.1 1427.1 781.6M1434.2 802.9L1434.2 802.9 1434.7 804.3 1435.2 805.8 1435.7 807.2 1436.2 808.6 1436.6 810.0 1437.1 811.4 1437.6 812.9 1438.1 814.3 1438.6 815.7 1439.1 817.1 1439.6 818.6 1440.1 820.0 1440.6 821.4 1441.1 822.8 1441.6 824.2 1442.1 825.6 1442.6 827.1 1443.2 828.5M1451.7 851.0L1451.7 851.0 1452.2 852.4 1452.8 853.8 1453.4 855.2 1453.9 856.6 1454.5 858.0 1455.1 859.3 1455.6 860.7 1456.2 862.1 1456.8 863.5 1457.4 864.9 1457.9 866.3 1458.5 867.7 1459.1 869.0 1459.7 870.4 1460.3 871.8 1460.9 873.2 1461.5 874.5M1471.7 896.2L1471.7 896.2 1472.4 897.5 1473.1 898.9 1473.8 900.2 1474.5 901.5 1475.2 902.9 1475.8 904.2 1476.5 905.5 1477.3 906.8 1478.0 908.1 1478.7 909.5 1479.4 910.8 1480.1 912.1 1480.8 913.4 1481.6 914.7 1482.3 916.0 1483.1 917.3 1483.8 918.6 1484.6 919.9M1497.3 940.1L1497.3 940.1 1498.1 941.3 1499.0 942.5 1499.8 943.8 1500.7 945.0 1501.6 946.2 1502.4 947.4 1503.3 948.6 1504.2 949.9 1505.1 951.1 1506.0 952.3 1506.9 953.5 1507.8 954.7 1508.7 955.9 1509.6 957.1 1510.5 958.3 1511.4 959.4 1512.3 960.6M1527.6 979.2L1527.6 979.2 1528.5 980.3 1529.5 981.5 1530.5 982.6 1531.5 983.7 1532.5 984.9 1533.4 986.0 1534.4 987.1 1535.4 988.2 1536.4 989.4 1537.4 990.5 1538.4 991.6 1539.4 992.7 1540.4 993.8 1541.4 995.0 1542.4 996.1 1543.4 997.2 1544.4 998.3M1560.4 1015.9L1560.4 1015.9 1561.4 1017.0 1562.4 1018.1 1563.4 1019.2 1564.4 1020.3 1565.4 1021.4 1566.3 1022.6 1567.3 1023.7 1568.3 1024.8 1569.3 1025.9 1570.3 1027.0 1571.3 1028.1 1572.3 1029.3 1573.3 1030.4 1574.2 1031.5 1575.2 1032.6 1576.2 1033.8 1577.2 1034.9 1578.1 1036.1 1579.1 1037.2 1580.1 1038.3M1592.7 1053.3L1592.7 1053.3 1593.7 1054.4 1594.7 1055.6 1595.7 1056.7 1596.8 1057.8 1597.8 1058.9 1598.8 1060.0 1599.9 1061.0 1600.9 1062.1 1601.9 1063.2 1603.0 1064.3 1604.1 1065.3 1605.1 1066.4 1606.2 1067.4 1607.3 1068.4 1608.4 1069.5 1609.5 1070.5 1610.6 1071.5 1611.7 1072.5 1612.8 1073.5M1632.4 1089.6L1632.4 1089.6 1633.6 1090.4 1634.8 1091.3 1636.0 1092.2 1637.2 1093.1 1638.5 1093.9 1639.7 1094.8 1640.9 1095.6 1642.1 1096.5 1643.4 1097.3 1644.6 1098.1 1645.9 1099.0 1647.1 1099.8 1648.4 1100.6 1649.6 1101.4 1650.9 1102.2 1652.2 1103.0 1653.4 1103.8 1654.7 1104.5 1656.0 1105.3M1675.6 1116.2L1675.6 1116.2 1676.9 1116.9 1678.3 1117.6 1679.6 1118.3 1680.9 1118.9 1682.3 1119.6 1683.6 1120.2 1685.0 1120.9 1686.3 1121.5 1687.7 1122.2 1689.1 1122.8 1690.4 1123.4 1691.8 1124.1 1693.2 1124.7 1694.5 1125.3 1695.9 1125.9 1697.3 1126.5 1698.6 1127.1 1700.0 1127.7 1701.4 1128.2M1722.4 1136.4L1722.4 1136.4 1723.8 1136.9 1725.2 1137.4 1726.6 1137.9 1728.0 1138.3 1729.4 1138.8 1730.8 1139.3 1732.3 1139.8 1733.7 1140.2 1735.1 1140.7 1736.5 1141.2 1737.9 1141.6 1739.4 1142.1 1740.8 1142.5 1742.2 1143.0 1743.7 1143.4 1745.1 1143.8 1746.5 1144.3 1747.9 1144.7 1749.4 1145.1M1771.0 1151.1L1771.0 1151.1 1772.4 1151.4 1773.9 1151.8 1775.3 1152.2 1776.8 1152.5 1778.2 1152.9 1779.7 1153.3 1781.1 1153.6 1782.6 1154.0 1784.1 1154.3 1785.5 1154.7 1787.0 1155.0 1788.4 1155.4 1789.9 1155.7 1791.3 1156.1 1792.8 1156.4 1794.3 1156.7 1795.7 1157.1 1797.2 1157.4M1820.6 1162.7L1820.6 1162.7 1822.0 1163.0 1823.5 1163.4 1825.0 1163.7 1826.4 1164.0 1827.9 1164.3 1829.3 1164.6 1830.8 1165.0 1832.3 1165.3 1833.7 1165.6 1835.2 1165.9 1836.7 1166.3 1838.1 1166.6 1839.6 1166.9 1841.1 1167.3 1842.5 1167.6" stroke="#d81818" stroke-width="4.7"/>
<path d="M270.5 1146.4L356.7 1146.4 414.7 1146.9 470.0 1146.0 511.4 1144.8 534.7 1145.5 580.0 1144.6 620.0 1142.2 667.0 1137.6 710.6 1134.2 754.1 1128.6 797.6 1121.6 820.0 1115.1 837.4 1111.7 854.8 1107.6 872.2 1104.1 889.6 1100.6 907.1 1093.7 924.5 1087.3 940.0 1080.3 960.0 1072.0 990.6 1059.3 1015.0 1045.0 1040.0 1031.7 1059.2 1021.5 1078.4 1013.2 1090.0 1009.6 1100.0 1008.8 1110.0 1007.3 1117.0 1002.6 1123.0 997.2 1128.5 989.8 1134.4 982.3 1139.9 974.8 1144.4 967.8 1148.4 960.9 1151.9 953.9 1154.4 946.9 1155.9 940.0 1157.8 932.5 1160.5 924.0 1164.5 912.0 1168.9 900.0 1173.5 889.0 1178.0 879.6 1183.0 859.7 1188.9 844.7 1194.9 829.8 1198.9 814.8 1202.9 799.9 1206.9 784.9 1210.8 768.0 1214.5 754.0 1223.9 738.5 1229.9 729.0 1234.2 723.9 1242.7 721.4 1251.3 723.1 1255.0 724.5 1263.5 727.2 1272.5 728.8 1274.7 737.2 1277.2 750.9 1280.6 766.3 1284.9 779.1 1289.2 791.9 1293.5 804.7 1297.7 817.6 1302.0 831.0 1308.5 854.2 1314.5 873.6 1319.4 892.9 1324.2 912.3 1329.0 933.5 1336.3 943.8 1346.0 954.7 1355.7 965.6 1362.9 977.7 1366.2 991.0 1369.1 1012.8 1373.7 1033.3 1381.7 1050.4 1390.8 1065.2 1399.9 1077.7 1406.7 1089.1 1411.3 1101.7 1415.8 1115.4 1420.4 1133.2 1425.0 1136.5 1432.5 1140.9 1439.9 1148.9 1445.9 1157.4 1449.9 1166.3 1459.9 1168.0 1469.8 1168.6 1478.8 1171.3 1483.8 1176.3 1487.8 1183.3 1490.8 1190.0" stroke="#d81818" stroke-width="4.8"/>
</g>
<g stroke="#000" stroke-width="5.4" fill="none">
<path d="M267.9 67.6H1844M270.6 65V1194.3M267.9 1191.6H1844"/>
<path d="M243.0 1191.5H268M254.0 1079.1H268M243.0 966.7H268M254.0 854.3H268M243.0 741.9H268M254.0 629.5H268M243.0 517.1H268M254.0 404.7H268M243.0 292.3H268M254.0 179.9H268M243.0 67.5H268M344.5 1194.3V1207.3M494.5 1194.3V1218.8M644.5 1194.3V1207.3M794.5 1194.3V1218.8M944.5 1194.3V1207.3M1094.5 1194.3V1218.8M1244.5 1194.3V1207.3M1394.5 1194.3V1218.8M1544.5 1194.3V1207.3M1694.5 1194.3V1218.8M1844.5 1194.3V1207.3"/>
</g>
<path d="M1844.3 65V1194.3M1847 1191.5H1863.0M1847 1041.6H1855.0M1847 891.8H1863.0M1847 741.9H1855.0M1847 592.0H1863.0M1847 442.2H1855.0M1847 292.3H1863.0M1847 142.4H1855.0" stroke="#b3242a" stroke-width="5.4" fill="none"/>
<g font-family="Liberation Sans, Arial, sans-serif" font-size="50" fill="#000" text-anchor="end">
<text x="225.5" y="1206.0">0</text>
<text x="225.5" y="981.2">1000</text>
<text x="225.5" y="756.4">2000</text>
<text x="225.5" y="531.6">3000</text>
<text x="225.5" y="306.8">4000</text>
<text x="225.5" y="82.0">5000</text>
</g>
<g font-family="Liberation Sans, Arial, sans-serif" font-size="50" fill="#000" text-anchor="middle">
<text x="494.5" y="1273">40</text>
<text x="794.5" y="1273">60</text>
<text x="1094.5" y="1273">80</text>
<text x="1394.5" y="1273">100</text>
<text x="1694.5" y="1273">120</text>
</g>
<g font-family="Liberation Sans, Arial, sans-serif" font-size="47" fill="#d81818">
<text x="1872" y="1203.0">0</text>
<text x="1872" y="903.3">0.2</text>
<text x="1872" y="603.5">0.4</text>
<text x="1872" y="303.8">0.6</text>
</g>
<g font-family="Liberation Sans, Arial, sans-serif" font-size="54" fill="#000">
<text x="845" y="1360.5" textLength="311" lengthAdjust="spacing">Temperature</text>
<text x="1176" y="1360.5">(</text>
<text x="1191.8" y="1367.2" font-size="57">°</text>
<text x="1213" y="1360.5">C</text>
<text x="1253" y="1360.5">)</text>
</g>
<text transform="translate(90.5 617) rotate(-90)" font-family="Liberation Sans, Arial, sans-serif" font-size="55" text-anchor="middle" fill="#000"><tspan font-style="italic">E&#39;</tspan> (MPa)</text>
<text transform="translate(2003 620) rotate(90)" font-family="Liberation Sans, Arial, sans-serif" font-size="54" fill="#d81818">tan<tspan font-size="46">δ</tspan></text>
<rect x="555.8" y="107.1" width="400.5" height="130.2" fill="none" stroke="#000" stroke-width="2.6"/>
<path d="M553 138H681.5" stroke="#000" stroke-width="5" fill="none"/>
<path d="M553 204.2H681.5" stroke="#000" stroke-width="5" fill="none" stroke-dasharray="28 22"/>
<g font-family="Liberation Sans, Arial, sans-serif" font-size="54.5" fill="#000">
<text x="691.8" y="157.4">PVC</text>
<text x="691.8" y="222.3">PVC/40ES</text>
</g>
</svg></body></html>
